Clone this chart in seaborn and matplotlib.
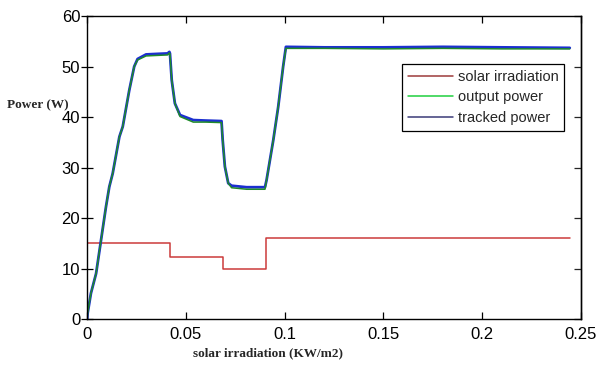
import numpy as np
import pandas as pd
import matplotlib
matplotlib.use('Agg')
import matplotlib.pyplot as plt
import seaborn as sns

# time axis (labelled as irradiation in the original) and read-off values
irr_t = [0.0, 0.0421, 0.0421, 0.0686, 0.0686, 0.0903, 0.0903, 0.2443]
irr_p = [15.0, 15.0, 12.3, 12.3, 10.0, 10.0, 16.0, 16.0]

out_t = [0.0, 0.0002, 0.0019, 0.0045, 0.0070, 0.0095, 0.0112, 0.0129, 0.0163,
         0.0180, 0.0213, 0.0238, 0.0255, 0.0298, 0.0350, 0.0407, 0.0416, 0.0419,
         0.0428, 0.0444, 0.0470, 0.0537, 0.0600, 0.0680, 0.0686, 0.0697, 0.0714,
         0.0731, 0.0807, 0.0900, 0.0908, 0.0942, 0.0967, 0.0992, 0.1006, 0.1200,
         0.1500, 0.1800, 0.2100, 0.2443]
out_p = [0.0, 1.1, 5.1, 9.0, 15.6, 22.2, 26.2, 28.8, 36.1,
         38.1, 45.3, 50.0, 51.3, 52.1, 52.2, 52.3, 52.7, 52.5,
         47.3, 42.7, 40.1, 39.0, 39.0, 38.9, 35.4, 30.2, 26.9,
         26.0, 25.7, 25.7, 27.5, 35.4, 42.0, 50.0, 53.6, 53.6,
         53.5, 53.6, 53.5, 53.5]
trk_p = [0.0, 1.1, 5.1, 9.0, 15.6, 22.2, 26.2, 28.8, 36.1,
         38.1, 45.3, 50.0, 51.5, 52.4, 52.5, 52.6, 52.9, 52.6,
         47.3, 42.7, 40.4, 39.4, 39.3, 39.2, 35.4, 30.2, 26.9,
         26.4, 26.1, 26.1, 27.5, 35.4, 42.0, 50.0, 53.9, 53.8,
         53.8, 53.9, 53.8, 53.7]

df_irr = pd.DataFrame({'t': irr_t, 'P': irr_p})
df_out = pd.DataFrame({'t': out_t, 'P': out_p})
df_trk = pd.DataFrame({'t': out_t, 'P': trk_p})

sns.set_style('white')
plt.rcParams['font.family'] = ['Liberation Sans', 'DejaVu Sans']

fig = plt.figure(figsize=(5.98, 3.65), dpi=100)
ax = fig.add_axes([0.1458, 0.126, 0.8258, 0.830])

sns.lineplot(data=df_irr, x='t', y='P', ax=ax, estimator=None, sort=False,
             color='#cc3a3a', linewidth=1.1, label='solar irradiation')
sns.lineplot(data=df_trk, x='t', y='P', ax=ax, estimator=None, sort=False,
             color='#1c2fd0', linewidth=2.0, label='tracked power')
sns.lineplot(data=df_out, x='t', y='P', ax=ax, estimator=None, sort=False,
             color='#1f8a2a', linewidth=1.1, label='output power')

ax.set_xlim(0, 0.25)
ax.set_ylim(0, 60)
ax.set_xticks([0, 0.05, 0.1, 0.15, 0.2, 0.25])
ax.set_xticklabels(['0', '0.05', '0.1', '0.15', '0.2', '0.25'])
ax.set_yticks(range(0, 61, 10))

for s in ax.spines.values():
    s.set_color('black')
    s.set_linewidth(1.0)

ax.tick_params(axis='x', direction='in', top=True, bottom=True, length=5,
               width=0.9, labelsize=12, pad=6, colors='black')
ax.tick_params(axis='y', direction='inout', left=True, right=False, length=8,
               width=0.9, labelsize=12, pad=1, colors='black')
ax2 = ax.secondary_yaxis('right')
ax2.set_yticks(range(0, 61, 10))
ax2.tick_params(direction='in', length=5, width=0.9, labelright=False)
ax2.spines['right'].set_linewidth(1.0)

ax.set_xlabel('solar irradiation (KW/m2)', family='Liberation Serif',
              fontweight='bold', fontsize=9.5, ha='center', va='center')
ax.xaxis.set_label_coords(0.366, -0.112)
ax.set_ylabel('Power (W)', family='Liberation Serif', fontweight='bold',
              fontsize=9.5, rotation=0, ha='center', va='center')
ax.yaxis.set_label_coords(-0.1006, 0.706)

h, l = ax.get_legend_handles_labels()
order = [0, 2, 1]
legend_colors = ['#9c3a3a', '#1fcf3f', '#3a3a78']
leg = ax.legend([h[i] for i in order], [l[i] for i in order],
                loc='upper left', bbox_to_anchor=(0.637, 0.842),
                borderaxespad=0, fontsize=10.5, handlelength=3.1,
                handletextpad=0.35, labelspacing=0.45, borderpad=0.4,
                frameon=True, fancybox=False, framealpha=1)
leg.get_frame().set_edgecolor('black')
leg.get_frame().set_linewidth(0.9)
for line, c in zip(leg.get_lines(), legend_colors):
    line.set_color(c)
    line.set_linewidth(1.1)

plt.savefig('out.png', dpi=100)
